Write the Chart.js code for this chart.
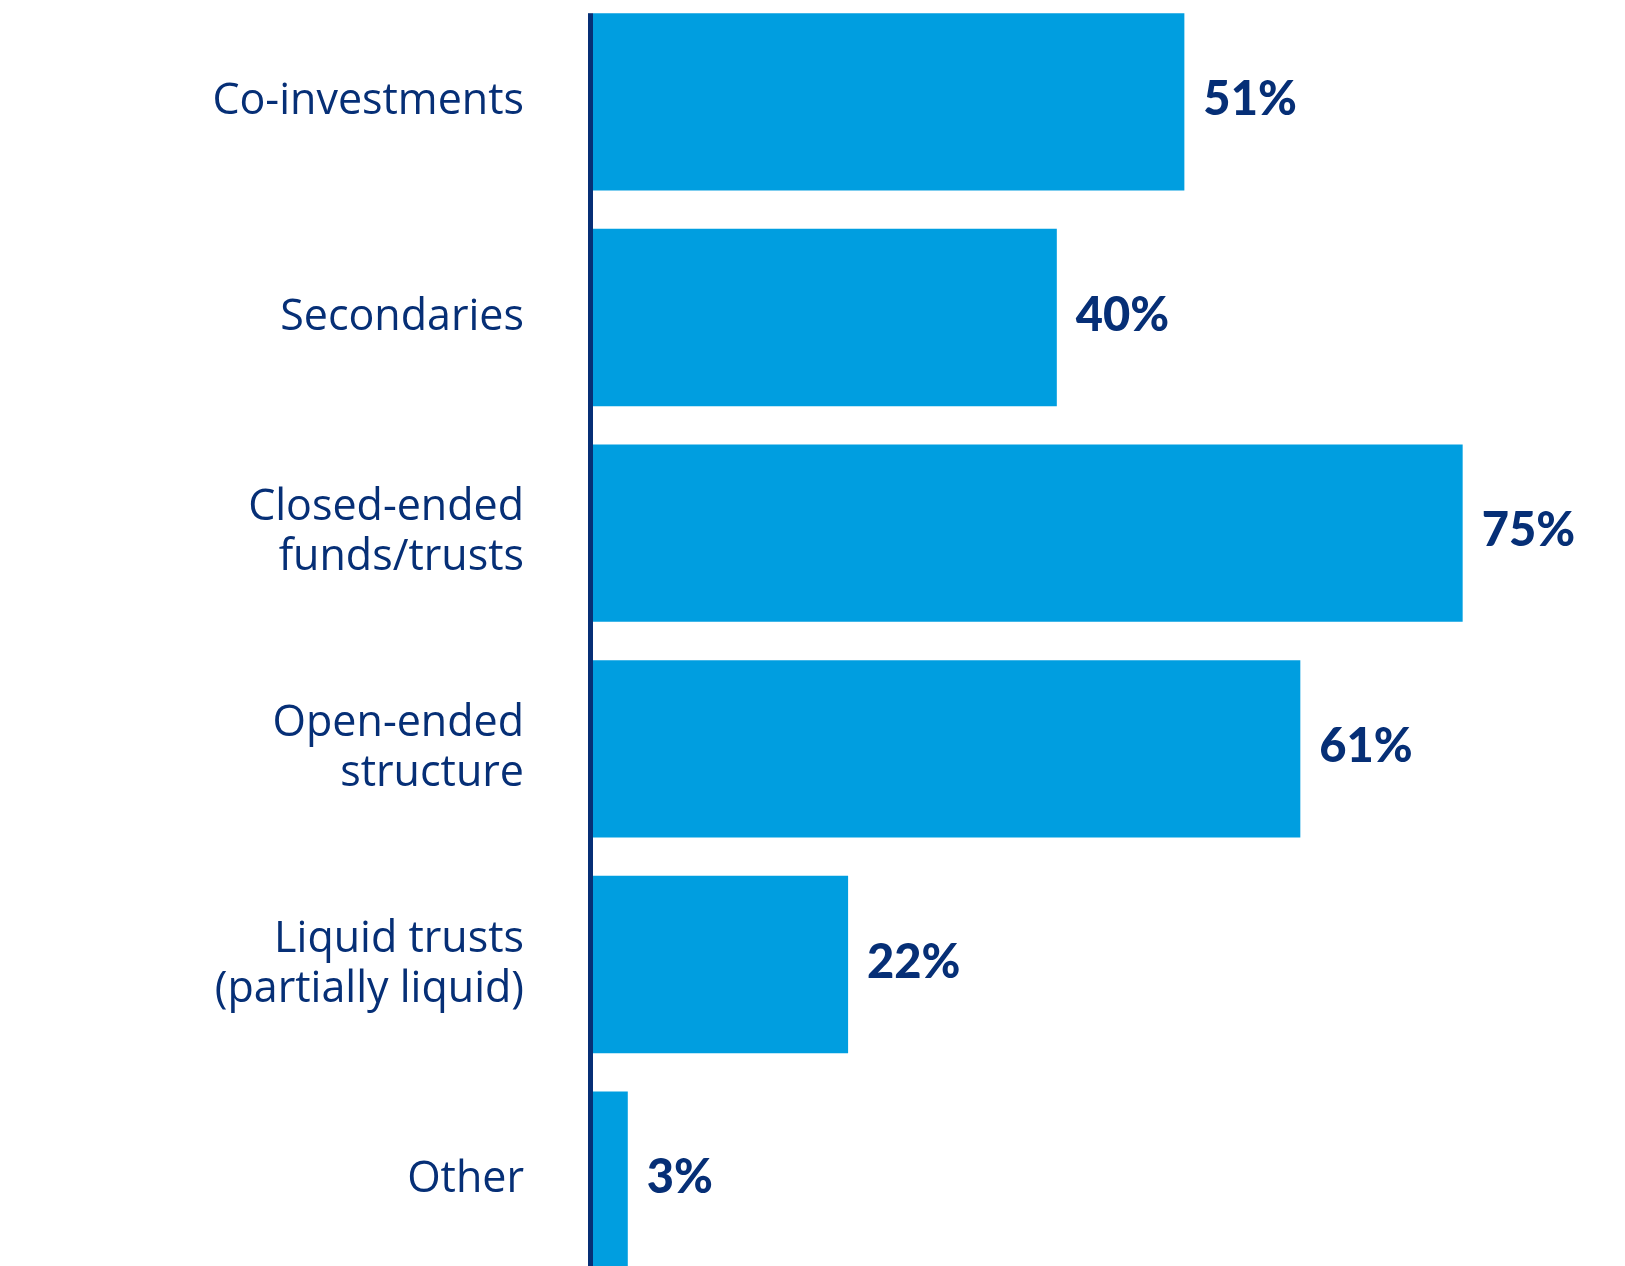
<!DOCTYPE html>
<html>
<head>
<meta charset="utf-8">
<script src="https://cdn.jsdelivr.net/npm/chart.js@4/dist/chart.umd.min.js"></script>
<style>
  html, body { margin: 0; padding: 0; background: #fff; overflow: hidden; }
  body { width: 1625px; height: 1266px; position: relative; }
  #wrap { position: absolute; left: 0; top: -6px; width: 1625px; height: 1294px; }
</style>
</head>
<body>
<div id="wrap"><canvas id="structureChart"></canvas></div>
<script>
const categories = [
    'Co-investments',
    'Secondaries',
    ['Closed-ended', 'funds/trusts'],
    ['Open-ended', 'structure'],
    ['Liquid trusts', '(partially liquid)'],
    'Other'
];
const shares = [51, 40, 75, 61, 22, 3];
const valueLabels = ['51%', '40%', '75%', '61%', '22%', '3%'];

const navy = '#062f76';
const barBlue = '#009ee0';

// draws the vertical axis rule and the percentage next to each bar
const barLabels = {
    id: 'barLabels',
    afterDatasetsDraw(chart) {
        const ctx = chart.ctx;
        const bars = chart.getDatasetMeta(0).data;
        const area = chart.chartArea;

        ctx.save();
        ctx.fillStyle = navy;
        const top = bars[0].y - bars[0].height / 2;
        ctx.fillRect(area.left - 5, top, 5, area.bottom - top);

        ctx.font = '900 47px Lato';
        ctx.textAlign = 'left';
        ctx.textBaseline = 'middle';
        bars.forEach((bar, i) => {
            ctx.fillText(valueLabels[i], bar.x + 19, bar.y - 2);
        });
        ctx.restore();
    }
};

const ctx = document.getElementById('structureChart').getContext('2d');
new Chart(ctx, {
    type: 'bar',
    data: {
        labels: categories,
        datasets: [{
            data: shares,
            backgroundColor: barBlue,
            borderWidth: 0,
            barPercentage: 0.822,
            categoryPercentage: 1
        }]
    },
    options: {
        indexAxis: 'y',
        responsive: true,
        maintainAspectRatio: false,
        animation: false,
        layout: { padding: 0 },
        plugins: {
            legend: { display: false },
            tooltip: { enabled: false }
        },
        scales: {
            x: {
                min: 0,
                max: 89,
                display: false
            },
            y: {
                grid: { display: false },
                border: { display: false },
                afterFit(scale) {
                    scale.width = 593;
                    scale.paddingTop = 0;
                    scale.paddingBottom = 0;
                },
                ticks: {
                    color: navy,
                    padding: 61,
                    font: { family: 'Open Sans', size: 43, lineHeight: 1.16 }
                }
            }
        }
    },
    plugins: [barLabels]
});
</script>
</body>
</html>
